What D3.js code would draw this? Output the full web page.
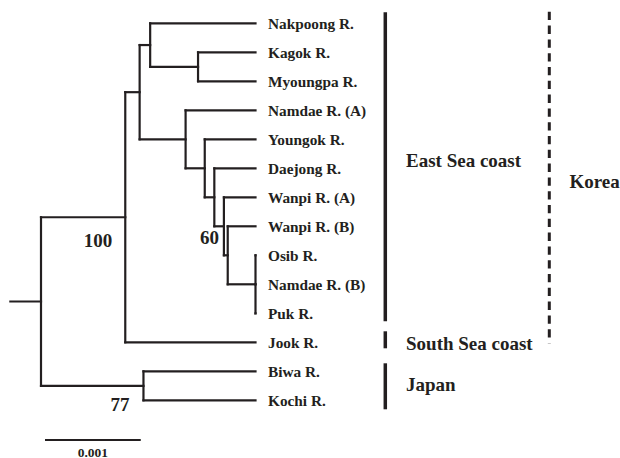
<!DOCTYPE html>
<html>
<head>
<meta charset="utf-8">
<script src="https://cdn.jsdelivr.net/npm/d3@7"></script>
<style>
  html, body { margin: 0; padding: 0; background: #fff; }
  svg { display: block; }
  text { font-family: "Liberation Serif", "Times New Roman", serif; font-weight: bold; fill: #231f20; }
</style>
</head>
<body>
<svg id="chart" width="620" height="458"></svg>
<script>
// ---------- DATA ----------
// Leaves in display order (top to bottom)
const leafNames = ["Nakpoong R.", "Kagok R.", "Myoungpa R.", "Namdae R. (A)", "Youngok R.",
  "Daejong R.", "Wanpi R. (A)", "Wanpi R. (B)", "Osib R.", "Namdae R. (B)", "Puk R.",
  "Jook R.", "Biwa R.", "Kochi R."];

// Tree nodes: id, parent id, distance from root (substitutions / site)
const nodeIds = ["root", "korea", "east", "nA", "nKM", "nB", "nB2", "nB3", "nB4", "nB5", "nB6", "japan",
  "Nakpoong R.", "Kagok R.", "Myoungpa R.", "Namdae R. (A)", "Youngok R.", "Daejong R.",
  "Wanpi R. (A)", "Wanpi R. (B)", "Osib R.", "Namdae R. (B)", "Puk R.", "Jook R.", "Biwa R.", "Kochi R."];
const parentIds = [null, "root", "korea", "east", "nA", "east", "nB", "nB2", "nB3", "nB4", "nB5", "root",
  "nA", "nKM", "nKM", "nB", "nB2", "nB3",
  "nB4", "nB5", "nB6", "nB6", "nB6", "korea", "japan", "japan"];
const nodeDepths = [0, 0.00088, 0.00103, 0.00114, 0.00164, 0.00151, 0.00171, 0.00181, 0.00191, 0.00195, 0.00224, 0.00107,
  0.00224, 0.00224, 0.00224, 0.00224, 0.00224, 0.00224,
  0.00224, 0.00224, 0.00224, 0.00224, 0.00224, 0.00224, 0.00224, 0.00224];
const rootStub = 0.00032;

// Bootstrap support values
const bootNodes = ["korea", "nB4", "japan"];
const bootValues = ["100", "60", "77"];

// Groups (bars at right)
const groupNames = ["East Sea coast", "South Sea coast", "Japan"];
const groupFirst = ["Nakpoong R.", "Jook R.", "Biwa R."];
const groupLast = ["Puk R.", "Jook R.", "Kochi R."];
const outerName = "Korea";
const outerFirst = "Nakpoong R.";
const outerLast = "Jook R.";

// Scale bar
const scaleBarValue = 0.001;
const scaleBarLabel = "0.001";

// ---------- LAYOUT / STYLE ----------
const ink = "#231f20";
const bootDx = [-13, -5, -14];
const bootDy = [30, 18, 25];
const groupTopPad = [11, 11, 8];
const groupBotPad = [8, 6, 9];
const groupLabelDy = [-4.5, 6, 0.5];

const svg = d3.select("#chart");

const rows = nodeIds.map((id, i) => ({ id, parent: parentIds[i], depth: nodeDepths[i] }));
const root = d3.stratify().id(d => d.id).parentId(d => d.parent)(rows);

const x = d3.scaleLinear().domain([0, 0.00224]).range([41, 255.5]);
const y = d3.scaleLinear().domain([0, leafNames.length - 1]).range([23.3, 400.3]);

root.eachAfter(n => {
  if (!n.children) n.yy = y(leafNames.indexOf(n.id));
  else {
    const ys = n.children.map(c => c.yy);
    n.yy = (d3.min(ys) + d3.max(ys)) / 2;
  }
  n.xx = x(n.data.depth);
});

const g = svg.append("g").attr("fill", "none").attr("stroke", ink).attr("stroke-width", 2.2).attr("stroke-linecap", "square");

// horizontal branches
root.descendants().filter(n => n.parent).forEach(n => {
  g.append("line").attr("x1", n.parent.xx).attr("x2", n.xx).attr("y1", n.yy).attr("y2", n.yy);
});
// vertical connectors
root.descendants().filter(n => n.children).forEach(n => {
  const ys = n.children.map(c => c.yy);
  g.append("line").attr("x1", n.xx).attr("x2", n.xx).attr("y1", d3.min(ys)).attr("y2", d3.max(ys));
});
// root stub
g.append("line").attr("x1", x(-rootStub)).attr("x2", x(0)).attr("y1", root.yy).attr("y2", root.yy);

// leaf labels
svg.append("g").selectAll("text").data(root.leaves()).join("text")
  .attr("x", d => d.xx + 12.5)
  .attr("y", d => d.yy + 5.5)
  .attr("font-size", 15.3)
  .text(d => d.id);

// bootstrap values
bootNodes.forEach((id, i) => {
  const n = root.find(d => d.id === id);
  svg.append("text").attr("x", n.xx + bootDx[i]).attr("y", n.yy + bootDy[i])
    .attr("text-anchor", "end").attr("font-size", 19).text(bootValues[i]);
});

// group bars
const leafY = name => y(leafNames.indexOf(name));
groupNames.forEach((name, i) => {
  const y0 = leafY(groupFirst[i]) - groupTopPad[i];
  const y1 = leafY(groupLast[i]) + groupBotPad[i];
  svg.append("line").attr("x1", 385.3).attr("x2", 385.3).attr("y1", y0).attr("y2", y1)
    .attr("stroke", ink).attr("stroke-width", 3.5);
  svg.append("text").attr("x", 406).attr("y", (y0 + y1) / 2 + groupLabelDy[i])
    .attr("font-size", 19).attr("dominant-baseline", "middle").text(name);
});

// Korea dashed bar
{
  const y0 = leafY(outerFirst) - 11.5;
  const y1 = leafY(outerLast) + 1;
  svg.append("line").attr("x1", 549.3).attr("x2", 549.3).attr("y1", y0).attr("y2", y1)
    .attr("stroke", ink).attr("stroke-width", 3).attr("stroke-dasharray", "8.3,5.5");
  svg.append("text").attr("x", 569.5).attr("y", (y0 + y1) / 2 + 6)
    .attr("font-size", 19).attr("dominant-baseline", "middle").text(outerName);
}

// scale bar
{
  const sx0 = 45, sy = 440;
  const len = x(scaleBarValue) - x(0);
  svg.append("line").attr("x1", sx0).attr("x2", sx0 + len).attr("y1", sy).attr("y2", sy)
    .attr("stroke", ink).attr("stroke-width", 2.2);
  svg.append("text").attr("x", sx0 + len / 2).attr("y", 456.5).attr("text-anchor", "middle")
    .attr("font-size", 13.5).text(scaleBarLabel);
}
</script>
</body>
</html>
